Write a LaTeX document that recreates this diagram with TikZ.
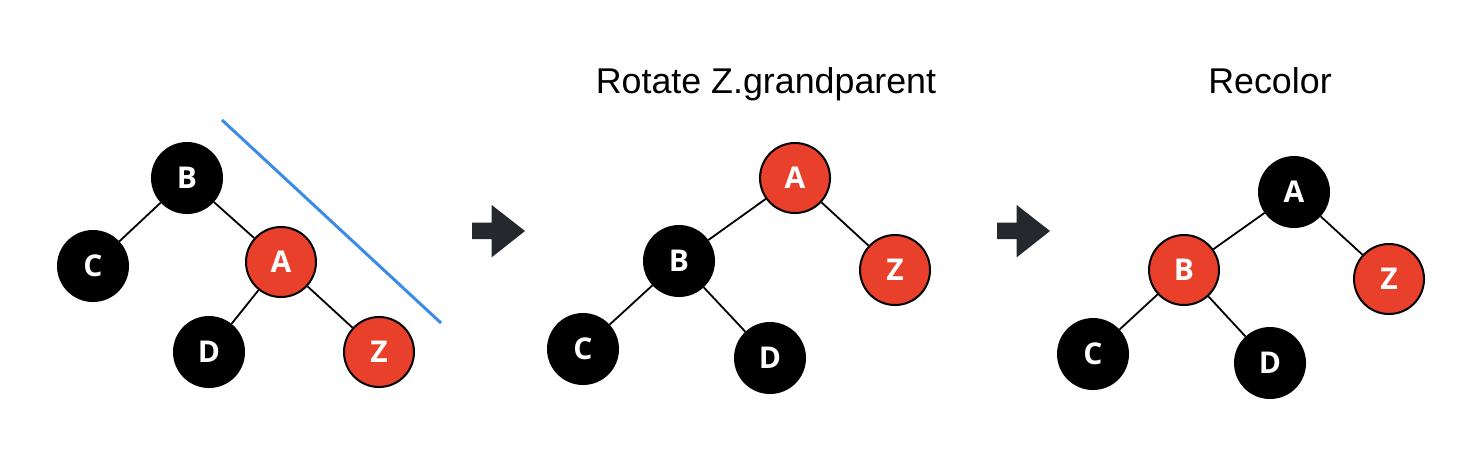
\documentclass[tikz,border=0pt]{standalone}
\usepackage{fontspec}
\setmainfont{Liberation Sans}
\newfontfamily\letterfont{Open Sans}
\usepackage{tikz}

\definecolor{nodered}{HTML}{E8402B}
\definecolor{cutblue}{HTML}{3C8CE7}
\definecolor{arrowgray}{HTML}{25282C}

\tikzset{
  treenode/.style={circle, draw=black, line width=1pt, minimum size=35pt,
    inner sep=0pt, text=white, font=\letterfont\bfseries\fontsize{15}{15}\selectfont},
  blacknode/.style={treenode, fill=black},
  rednode/.style={treenode, fill=nodered},
  edge/.style={black, line width=0.9pt},
  title/.style={anchor=base, font=\fontsize{17.9}{20}\selectfont}
}

\begin{document}
\begin{tikzpicture}[x=0.5pt, y=-0.5pt]
\useasboundingbox (0,0) rectangle (1470,468);

% before the rotation
\node[blacknode] (b1) at (187,178) {B};
\node[blacknode] (c1) at (93,266) {C};
\node[rednode] (a1) at (281,262) {A};
\node[blacknode] (d1) at (209,352) {D};
\node[rednode] (z1) at (379,352) {Z};
\draw[edge] (b1) -- (c1);
\draw[edge] (b1) -- (a1);
\draw[edge] (a1) -- (d1);
\draw[edge] (a1) -- (z1);

\coordinate (cut1) at (222,120);
\coordinate (cut2) at (441,323);
\draw[cutblue, line width=1.5pt] (cut1) -- (cut2);

% arrows between the steps
\foreach \dx in {0,525} {
  \fill[arrowgray] (472+\dx,222.5) -- (491.7+\dx,222.5) -- (491.7+\dx,205)
    -- (525+\dx,231) -- (491.7+\dx,257.3) -- (491.7+\dx,239.2)
    -- (472+\dx,239.2) -- cycle;
}

% after the rotation
\node[title] (t2) at (766,93) {Rotate Z.grandparent};
\node[rednode] (a2) at (795,178) {A};
\node[blacknode] (b2) at (679,261) {B};
\node[rednode] (z2) at (895,270) {Z};
\node[blacknode] (c2) at (583,349) {C};
\node[blacknode] (d2) at (770,358) {D};
\draw[edge] (a2) -- (b2);
\draw[edge] (a2) -- (z2);
\draw[edge] (b2) -- (c2);
\draw[edge] (b2) -- (d2);

% after the recolor
\node[title] (t3) at (1270,93) {Recolor};
\node[blacknode] (a3) at (1294,192) {A};
\node[rednode] (b3) at (1184,270) {B};
\node[rednode] (z3) at (1389,279) {Z};
\node[blacknode] (c3) at (1093,354) {C};
\node[blacknode] (d3) at (1270,363) {D};
\draw[edge] (a3) -- (b3);
\draw[edge] (a3) -- (z3);
\draw[edge] (b3) -- (c3);
\draw[edge] (b3) -- (d3);

\end{tikzpicture}
\end{document}
